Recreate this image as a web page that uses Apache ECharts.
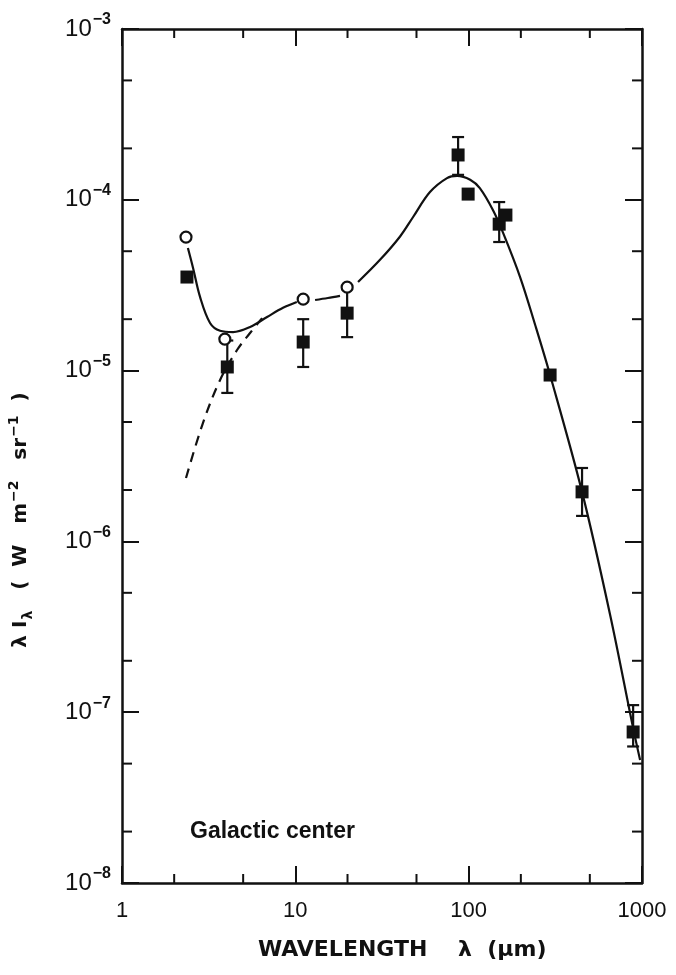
<!DOCTYPE html>
<html>
<head>
<meta charset="utf-8">
<script src="https://cdn.jsdelivr.net/npm/echarts@6/dist/echarts.min.js"></script>
<style>
html,body{margin:0;padding:0;background:#fff;}
#c{width:676px;height:975px;}
</style>
</head>
<body>
<div id="c"></div>
<script>
// ---- data ----
const xTickLabels = [1, 10, 100, 1000];
const yTickLabels = [1e-8, 1e-7, 1e-6, 1e-5, 1e-4, 1e-3];
const xMinorTicks = [2, 5, 20, 50, 200, 500];
const yMinorTicks = [2e-8, 5e-8, 2e-7, 5e-7, 2e-6, 5e-6, 2e-5, 5e-5, 2e-4, 5e-4];

const squaresX = [2.37, 4.05, 11.1, 19.9, 86.9, 99.3, 150, 164, 295, 451, 889];
const squaresY = [3.53e-5, 1.05e-5, 1.47e-5, 2.17e-5, 1.83e-4, 1.08e-4, 7.2e-5, 8.14e-5, 9.42e-6, 1.95e-6, 7.66e-8];

const circlesX = [2.34, 3.92, 11.1, 19.9];
const circlesY = [6.05e-5, 1.53e-5, 2.62e-5, 3.08e-5];

const errX  = [4.05, 11.1, 19.9, 86.9, 150, 451, 889];
const errLo = [7.4e-6, 1.05e-5, 1.57e-5, 1.40e-4, 5.66e-5, 1.41e-6, 6.3e-8];
const errHi = [1.5e-5, 2.0e-5, 3.0e-5, 2.33e-4, 9.7e-5, 2.69e-6, 1.1e-7];

const curveAX = [2.40, 2.57, 2.82, 3.22, 3.68, 4.37, 5.48, 6.87, 8.49, 10.2];
const curveAY = [5.22e-5, 3.99e-5, 2.70e-5, 1.90e-5, 1.71e-5, 1.68e-5, 1.80e-5, 2.06e-5, 2.33e-5, 2.52e-5];
const curveBX = [13.0, 15.4, 18.1];
const curveBY = [2.59e-5, 2.66e-5, 2.74e-5];
const curveCX = [23.0, 30.8, 40.2, 47.8, 59.8, 75.0, 85.7, 102, 116, 138, 158, 198, 242, 295, 451, 655, 889, 975];
const curveCY = [3.30e-5, 4.45e-5, 6.1e-5, 7.93e-5, 1.11e-4, 1.34e-4, 1.38e-4, 1.31e-4, 1.17e-4, 8.71e-5, 6.40e-5, 3.53e-5, 1.85e-5, 9.42e-6, 1.95e-6, 3.71e-7, 8.07e-8, 5.25e-8];
const dashX = [2.34, 2.93, 3.68, 4.61, 5.48, 6.43];
const dashY = [2.35e-6, 4.93e-6, 8.81e-6, 1.32e-5, 1.66e-5, 2.03e-5];

const annotation = 'Galactic center';
const xTitle = 'WAVELENGTH    λ  (μm)';

// ---- chart ----
const FONT = 'Liberation Sans';
const INK = '#111';
const zip = (a, b) => a.map((v, i) => [v, b[i]]);
const X0 = xTickLabels[0], X1 = xTickLabels[xTickLabels.length - 1];
const Y0 = yTickLabels[0], Y1 = yTickLabels[yTickLabels.length - 1];

const chart = echarts.init(document.getElementById('c'), null, {renderer: 'canvas'});

const axisCommon = {
  type: 'log', logBase: 10,
  axisLine: {show: true, lineStyle: {color: INK, width: 2.5}},
  axisTick: {show: true, inside: true, length: 17, lineStyle: {color: INK, width: 2}},
  splitLine: {show: false},
  minorTick: {show: false}
};

const option = {
  backgroundColor: '#ffffff',
  animation: false,
  grid: {left: 122, right: 34, top: 29, bottom: 92, containLabel: false, outerBoundsMode: 'none'},
  xAxis: [
    Object.assign({}, axisCommon, {
      position: 'bottom', min: X0, max: X1,
      axisLabel: {show: true, margin: 17, color: INK, fontFamily: FONT, fontSize: 22,
        formatter: v => String(Math.round(v))}
    }),
    Object.assign({}, axisCommon, {
      position: 'top', min: X0, max: X1, axisLabel: {show: false}
    })
  ],
  yAxis: [
    Object.assign({}, axisCommon, {
      position: 'left', min: Y0, max: Y1,
      axisLabel: {show: true, margin: 11, color: INK, fontFamily: FONT,
        formatter: v => {
          const e = Math.round(Math.log10(v));
          return '{b|10}{s|' + (e < 0 ? '−' : '') + Math.abs(e) + '}';
        },
        rich: {
          b: {fontSize: 24, fontFamily: FONT, color: INK},
          s: {fontSize: 16, fontFamily: FONT, color: INK, fontWeight: 'bold', padding: [0, 0, 18, 1]}
        }
      }
    }),
    Object.assign({}, axisCommon, {
      position: 'right', min: Y0, max: Y1, axisLabel: {show: false}
    })
  ],
  graphic: [
    {
      type: 'text', left: 190, top: 820,
      style: {text: annotation, fill: INK, font: 'bold 23px ' + FONT}
    },
    {
      type: 'text', left: 258, top: 939,
      style: {text: xTitle, fill: INK, font: 'bold 22px "DejaVu Sans"'}
    },
    {
      type: 'text', x: 21, y: 520, rotation: Math.PI / 2,
      style: {
        text: '{t|λ I}{sub|λ}{t|   (  W   m}{sup|−2}{t|   sr}{sup|−1}{t|  )}',
        align: 'center', verticalAlign: 'middle', fill: INK,
        rich: {
          t: {fontSize: 20, fontFamily: 'DejaVu Sans', fontWeight: 'bold', fill: INK},
          sub: {fontSize: 14, fontFamily: 'DejaVu Sans', fontWeight: 'bold', fill: INK, padding: [14, 0, 0, 1]},
          sup: {fontSize: 14, fontFamily: 'DejaVu Sans', fontWeight: 'bold', fill: INK, padding: [0, 0, 13, 1]}
        }
      }
    }
  ],
  series: [
    {
      type: 'custom', name: 'xminor', clip: false, silent: true, z: 3,
      data: xMinorTicks.map(v => [v, Y0]),
      renderItem: (params, api) => {
        const v = api.value(0);
        const pb = api.coord([v, Y0]);
        const pt = api.coord([v, Y1]);
        const st = {stroke: INK, lineWidth: 2};
        return {type: 'group', children: [
          {type: 'line', shape: {x1: pb[0], y1: pb[1], x2: pb[0], y2: pb[1] - 9}, style: st},
          {type: 'line', shape: {x1: pt[0], y1: pt[1], x2: pt[0], y2: pt[1] + 9}, style: st}
        ]};
      }
    },
    {
      type: 'custom', name: 'yminor', clip: false, silent: true, z: 3,
      data: yMinorTicks.map(v => [X0, v]),
      renderItem: (params, api) => {
        const v = api.value(1);
        const pl = api.coord([X0, v]);
        const pr = api.coord([X1, v]);
        const st = {stroke: INK, lineWidth: 2};
        return {type: 'group', children: [
          {type: 'line', shape: {x1: pl[0], y1: pl[1], x2: pl[0] + 10, y2: pl[1]}, style: st},
          {type: 'line', shape: {x1: pr[0], y1: pr[1], x2: pr[0] - 10, y2: pr[1]}, style: st}
        ]};
      }
    },
    {
      type: 'line', data: zip(curveAX, curveAY), smooth: 0.35, showSymbol: false, symbol: 'none',
      lineStyle: {color: INK, width: 2.2}, z: 4
    },
    {
      type: 'line', data: zip(curveBX, curveBY), smooth: 0.35, showSymbol: false, symbol: 'none',
      lineStyle: {color: INK, width: 2.2}, z: 4
    },
    {
      type: 'line', data: zip(curveCX, curveCY), smooth: 0.35, showSymbol: false, symbol: 'none',
      lineStyle: {color: INK, width: 2.2}, z: 4
    },
    {
      type: 'line', data: zip(dashX, dashY), smooth: 0.35, showSymbol: false, symbol: 'none',
      lineStyle: {color: INK, width: 2.2, type: [10, 7]}, z: 4
    },
    {
      type: 'custom', name: 'err', z: 5, clip: false,
      data: errX.map((x, i) => [x, errLo[i], errHi[i]]),
      encode: {x: 0, y: [1, 2]},
      renderItem: (params, api) => {
        const x = api.value(0);
        const lo = api.coord([x, api.value(1)]);
        const hi = api.coord([x, api.value(2)]);
        const st = {stroke: INK, lineWidth: 2.2};
        const w = 6;
        return {type: 'group', children: [
          {type: 'line', shape: {x1: lo[0], y1: lo[1], x2: hi[0], y2: hi[1]}, style: st},
          {type: 'line', shape: {x1: lo[0] - w, y1: lo[1], x2: lo[0] + w, y2: lo[1]}, style: st},
          {type: 'line', shape: {x1: hi[0] - w, y1: hi[1], x2: hi[0] + w, y2: hi[1]}, style: st}
        ]};
      }
    },
    {
      type: 'scatter', data: zip(squaresX, squaresY), symbol: 'rect', symbolSize: 13,
      itemStyle: {color: INK, opacity: 1}, z: 6
    },
    {
      type: 'scatter', data: zip(circlesX, circlesY), symbol: 'circle', symbolSize: 11,
      itemStyle: {color: '#fff', borderColor: INK, borderWidth: 2.2, opacity: 1}, z: 7
    }
  ]
};
chart.setOption(option);
</script>
</body>
</html>
